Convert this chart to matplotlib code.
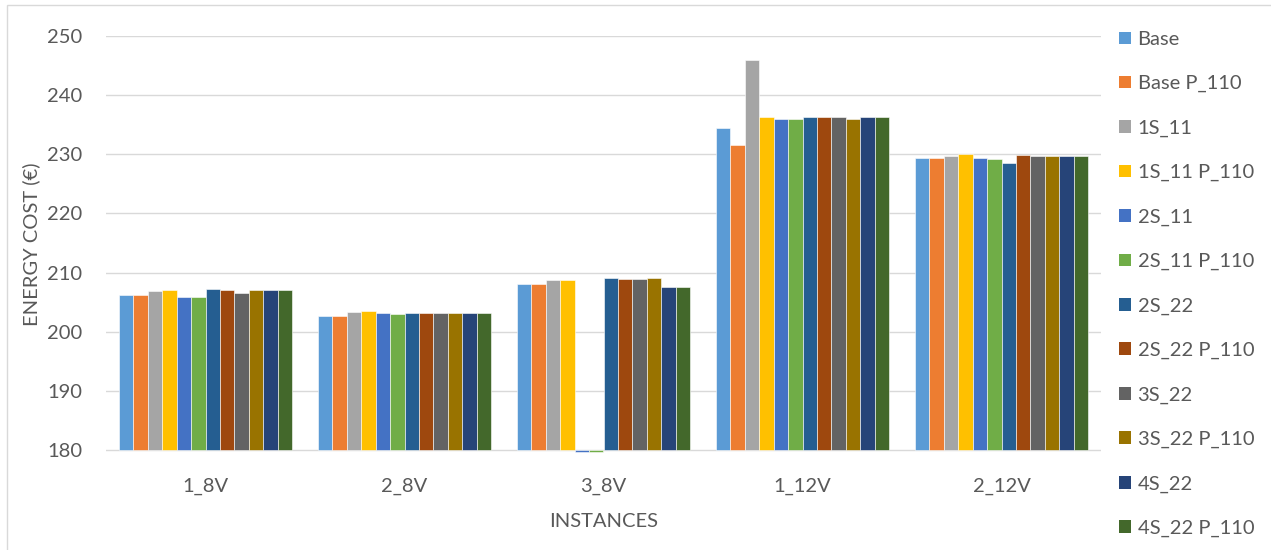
import matplotlib
matplotlib.use("Agg")
import matplotlib.pyplot as plt
from matplotlib.patches import Rectangle, Patch
import numpy as np

plt.rcParams['font.family'] = ['Lato', 'DejaVu Sans']

instances = ["1_8V", "2_8V", "3_8V", "1_12V", "2_12V"]
series_names = ["Base", "Base P_110", "1S_11", "1S_11 P_110", "2S_11", "2S_11 P_110",
                "2S_22", "2S_22 P_110", "3S_22", "3S_22 P_110", "4S_22", "4S_22 P_110"]
colors = ["#5B9BD5", "#ED7D31", "#A5A5A5", "#FFC000", "#4472C4", "#70AD47",
          "#255E91", "#9E480E", "#636363", "#997300", "#264478", "#43682B"]

# Energy cost (€) per instance, one list per configuration
base        = [206.2, 202.7, 208.1, 234.5, 229.3]
base_p110   = [206.2, 202.7, 208.1, 231.6, 229.3]
s1_11       = [206.8, 203.4, 208.8, 245.9, 229.7]
s1_11_p110  = [207.0, 203.5, 208.8, 236.3, 230.0]
s2_11       = [205.9, 203.2, 179.6, 235.9, 229.3]
s2_11_p110  = [205.9, 203.0, 179.6, 235.9, 229.2]
s2_22       = [207.3, 203.1, 209.0, 236.3, 228.5]
s2_22_p110  = [207.1, 203.1, 208.9, 236.3, 229.8]
s3_22       = [206.5, 203.1, 208.9, 236.3, 229.7]
s3_22_p110  = [207.1, 203.1, 209.0, 236.0, 229.7]
s4_22       = [207.0, 203.1, 207.5, 236.3, 229.7]
s4_22_p110  = [207.0, 203.1, 207.5, 236.3, 229.7]

series = [base, base_p110, s1_11, s1_11_p110, s2_11, s2_11_p110,
          s2_22, s2_22_p110, s3_22, s3_22_p110, s4_22, s4_22_p110]

axis_base = 180
FS = 14.5
TXT = "#595959"
W, H = 1271, 550
fig = plt.figure(figsize=(W / 100, H / 100), dpi=100)

# chart border
fig.patches.append(Rectangle((7 / W, -0.01), 1.02, 1 - 5 / H + 0.01,
                             transform=fig.transFigure, fill=False,
                             edgecolor="#D9D9D9", linewidth=1.0))

left, right = 106 / W, 1101 / W
top, bottom = 1 - 36 / H, 1 - 452.6 / H
ax = fig.add_axes([left, bottom, right - left, top - bottom])

x = np.arange(len(instances))
n = len(series)
bw = 0.874 / n
for i, (vals, name, c) in enumerate(zip(series, series_names, colors)):
    v = np.array(vals)
    ax.bar(x + (i - (n - 1) / 2) * bw, v - axis_base, bottom=axis_base, width=bw,
           color=c, edgecolor="white", linewidth=0.4, label=name, zorder=3)

ax.set_xlim(-0.5, len(instances) - 0.5)
ax.set_ylim(179.56, 250)
ax.set_yticks(np.arange(180, 251, 10))
ax.set_xticks(x)
ax.set_xticklabels(instances)
ax.yaxis.grid(True, color="#D9D9D9", linewidth=1.0, zorder=0)
ax.set_axisbelow(True)
for s in ax.spines.values():
    s.set_visible(False)
ax.tick_params(axis="both", length=0, labelsize=FS, labelcolor=TXT)
ax.tick_params(axis="y", pad=17)
ax.tick_params(axis="x", pad=18)

ax.set_ylabel("ENERGY COST (€)", fontsize=FS, color=TXT, labelpad=5)
ax.set_xlabel("INSTANCES", fontsize=FS, color=TXT, labelpad=13)

handles = [Patch(facecolor=c, edgecolor="none") for c in colors]
fig.legend(handles, series_names, loc="upper left",
           bbox_to_anchor=(1119 / W, 1 - 31 / H), frameon=False,
           fontsize=FS, labelcolor=TXT, handlelength=0.6, handleheight=0.6,
           handletextpad=0.32, labelspacing=1.35, borderpad=0, borderaxespad=0)

fig.savefig("out.png", dpi=100)
